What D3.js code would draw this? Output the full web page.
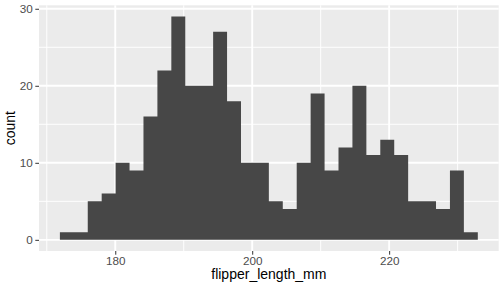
<!DOCTYPE html>
<html>
<head>
<meta charset="utf-8">
<script src="https://cdn.jsdelivr.net/npm/d3@7"></script>
<style>
  body { margin: 0; background: #fff; }
  svg { display: block; font-family: "Liberation Sans", Arial, sans-serif; }
</style>
</head>
<body>
<svg id="chart" width="504" height="288"></svg>
<script>
// histogram of flipper_length_mm, 30 bins (ggplot default)
const binStart = 171.913793
const binWidth = 59 / 29
const counts = [1, 1, 5, 6, 10, 9, 16, 22, 29, 20, 20, 27, 18, 10, 10,
                5, 4, 10, 19, 9, 12, 20, 11, 13, 11, 5, 5, 4, 9, 1]
const xMajor = [180, 200, 220]
const xMinor = [170, 190, 210, 230]
const yMajor = [0, 10, 20, 30]
const yMinor = [5, 15, 25]
const xTitle = "flipper_length_mm"
const yTitle = "count"

const bins = counts.map((c, i) => ({
    x0: binStart + i * binWidth,
    x1: binStart + (i + 1) * binWidth,
    count: c,
}))

const panel = { left: 39, right: 498.7, top: 5.3, bottom: 251 }

const xLo = bins[0].x0, xHi = bins[bins.length - 1].x1
const xPad = (xHi - xLo) * 0.05
const yMax = d3.max(counts)

const x = d3.scaleLinear()
    .domain([xLo - xPad, xHi + xPad])
    .range([panel.left, panel.right])
const y = d3.scaleLinear()
    .domain([-yMax * 0.05, yMax * 1.05])
    .range([panel.bottom, panel.top])

const svg = d3.select('#chart')

svg.append('rect')
    .attr('x', panel.left).attr('y', panel.top)
    .attr('width', panel.right - panel.left)
    .attr('height', panel.bottom - panel.top)
    .attr('fill', '#EBEBEB')

// grid
const grid = svg.append('g')
grid.selectAll('.vmin').data(xMinor).enter().append('line')
    .attr('x1', d => x(d)).attr('x2', d => x(d))
    .attr('y1', panel.top).attr('y2', panel.bottom)
    .attr('stroke', '#fff').attr('stroke-width', 0.95)
grid.selectAll('.hmin').data(yMinor).enter().append('line')
    .attr('y1', d => y(d)).attr('y2', d => y(d))
    .attr('x1', panel.left).attr('x2', panel.right)
    .attr('stroke', '#fff').attr('stroke-width', 0.95)
grid.selectAll('.vmaj').data(xMajor).enter().append('line')
    .attr('x1', d => x(d)).attr('x2', d => x(d))
    .attr('y1', panel.top).attr('y2', panel.bottom)
    .attr('stroke', '#fff').attr('stroke-width', 1.9)
grid.selectAll('.hmaj').data(yMajor).enter().append('line')
    .attr('y1', d => y(d)).attr('y2', d => y(d))
    .attr('x1', panel.left).attr('x2', panel.right)
    .attr('stroke', '#fff').attr('stroke-width', 1.9)

// bars drawn as one stepped area so neighbours don't leave seams
const steps = bins.map(d => ({ x: d.x0, count: d.count }))
steps.push({ x: xHi, count: bins[bins.length - 1].count })

const area = d3.area()
    .curve(d3.curveStepAfter)
    .x(d => x(d.x))
    .y0(y(0))
    .y1(d => y(d.count))

svg.append('path')
    .datum(steps)
    .attr('d', area)
    .attr('fill', '#474747')

// axes
const xAxis = svg.append('g')
    .attr('transform', `translate(0,${panel.bottom})`)
    .call(d3.axisBottom(x).tickValues(xMajor).tickSize(3.7).tickPadding(2.2))
const yAxis = svg.append('g')
    .attr('transform', `translate(${panel.left},0)`)
    .call(d3.axisLeft(y).tickValues(yMajor).tickSize(3.7).tickPadding(2.5))

;[xAxis, yAxis].forEach(a => {
    a.select('.domain').remove()
    a.selectAll('.tick line').attr('stroke', '#333333').attr('stroke-width', 1)
    a.selectAll('.tick text')
        .attr('fill', '#4D4D4D')
        .style('font-size', '11.7px')
        .style('font-family', '"Liberation Sans", Arial, sans-serif')
})

svg.append('text')
    .attr('x', (panel.left + panel.right) / 2)
    .attr('y', 279)
    .attr('text-anchor', 'middle')
    .style('font-size', '14px')
    .attr('fill', '#000')
    .text(xTitle)

svg.append('text')
    .attr('transform', `translate(15.3,${(panel.top + panel.bottom) / 2}) rotate(-90)`)
    .attr('text-anchor', 'middle')
    .style('font-size', '14px')
    .attr('fill', '#000')
    .text(yTitle)
</script>
</body>
</html>
